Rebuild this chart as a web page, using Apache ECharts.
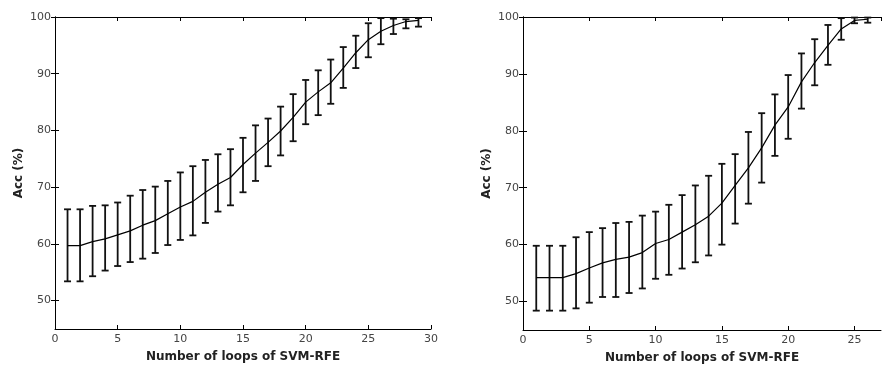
<!DOCTYPE html>
<html>
<head>
<meta charset="utf-8">
<script src="https://cdn.jsdelivr.net/npm/echarts@6/dist/echarts.min.js"></script>
<style>
  html, body { margin: 0; padding: 0; background: #fff; }
  #main { width: 892px; height: 376px; }
</style>
</head>
<body>
<div id="main"></div>
<script>
// left panel: 29 loops
var loopsL = [1,2,3,4,5,6,7,8,9,10,11,12,13,14,15,16,17,18,19,20,21,22,23,24,25,26,27,28,29];
var meanL = [59.7,59.7,60.4,60.9,61.6,62.3,63.3,64.1,65.3,66.5,67.5,69.1,70.5,71.7,74.0,76.0,77.9,79.9,82.3,85.0,86.8,88.4,91.0,93.7,96.0,97.5,98.5,99.2,99.4];
var highL = [66.1,66.1,66.7,66.8,67.3,68.5,69.5,70.1,71.1,72.6,73.7,74.8,75.8,76.7,78.7,80.9,82.1,84.2,86.4,88.9,90.6,92.5,94.7,96.7,98.9,99.8,99.7,99.6,99.8];
var lowL  = [53.4,53.4,54.3,55.3,56.1,56.8,57.4,58.4,59.8,60.7,61.5,63.7,65.7,66.8,69.1,71.1,73.7,75.6,78.1,81.1,82.7,84.7,87.5,91.0,92.9,95.2,97.0,98.0,98.3];

// right panel: 26 loops
var loopsR = [1,2,3,4,5,6,7,8,9,10,11,12,13,14,15,16,17,18,19,20,21,22,23,24,25,26];
var meanR = [54.2,54.2,54.2,54.9,55.9,56.8,57.4,57.8,58.6,60.2,60.9,62.2,63.5,65.0,67.3,70.4,73.5,77.0,81.0,84.2,88.6,92.0,95.0,97.9,99.4,99.6];
var highR = [59.8,59.8,59.8,61.3,62.2,62.9,63.8,64.0,65.1,65.8,67.0,68.7,70.4,72.1,74.2,75.9,79.8,83.1,86.4,89.8,93.6,96.1,98.6,99.8,99.9,99.9];
var lowR  = [48.4,48.4,48.4,48.8,49.8,50.8,50.8,51.5,52.3,54.0,54.7,55.8,56.9,58.1,60.0,63.7,67.2,70.9,75.6,78.6,83.9,88.0,91.6,96.0,98.9,99.0];

var yTicks = [50,60,70,80,90,100];

var chart = echarts.init(document.getElementById('main'));

var tickFont = { color: '#444', fontSize: 11, fontFamily: 'DejaVu Sans' };
var titleFont = { color: '#222', fontSize: 12, fontWeight: 'bold', fontFamily: 'DejaVu Sans' };
var spine = { show: true, lineStyle: { color: '#000', width: 1 } };

function pairs(xs, a, b) {
  var out = [];
  for (var i = 0; i < xs.length; i++) out.push(b ? [xs[i], a[i], b[i]] : [xs[i], a[i]]);
  return out;
}

function errRender(params, api) {
  var x = api.value(0);
  var top = api.coord([x, api.value(2)]);
  var bot = api.coord([x, api.value(1)]);
  var w = 3.5;
  var st = { stroke: '#111', lineWidth: 1.8 };
  return {
    type: 'group',
    children: [
      { type: 'line', shape: { x1: top[0], y1: top[1], x2: bot[0], y2: bot[1] }, style: st },
      { type: 'line', shape: { x1: top[0] - w, y1: top[1], x2: top[0] + w, y2: top[1] }, style: st },
      { type: 'line', shape: { x1: bot[0] - w, y1: bot[1], x2: bot[0] + w, y2: bot[1] }, style: st }
    ]
  };
}

function xAxes(gi, max, showMax) {
  return [
    {
      gridIndex: gi, type: 'value', position: 'bottom', min: 0, max: max, interval: 5,
      name: 'Number of loops of SVM-RFE', nameLocation: 'middle', nameGap: 22, nameTextStyle: titleFont,
      axisLine: spine, axisTick: { inside: true, length: 4, lineStyle: { color: '#000' } },
      axisLabel: Object.assign({ margin: 5, showMaxLabel: showMax }, tickFont),
      splitLine: { show: false }
    },
    {
      gridIndex: gi, type: 'value', position: 'top', min: 0, max: max, interval: 5,
      axisLine: spine, axisTick: { inside: true, length: 4, lineStyle: { color: '#000' } },
      axisLabel: { show: false }, splitLine: { show: false }
    }
  ];
}

function yAxes(gi) {
  return [
    {
      gridIndex: gi, type: 'value', position: 'left', min: 45, max: 100,
      name: 'Acc (%)', nameLocation: 'middle', nameGap: 30, nameTextStyle: titleFont,
      axisLine: spine,
      axisTick: { inside: true, length: 4, customValues: yTicks, lineStyle: { color: '#000' } },
      axisLabel: Object.assign({ margin: 4, customValues: yTicks }, tickFont),
      splitLine: { show: false }
    },
    {
      gridIndex: gi, type: 'value', position: 'right', min: 45, max: 100,
      axisLine: spine,
      axisTick: { inside: true, length: 4, customValues: yTicks, lineStyle: { color: '#000' } },
      axisLabel: { show: false }, splitLine: { show: false }
    }
  ];
}

var option = {
  backgroundColor: '#fff',
  animation: false,
  grid: [
    { left: 55, top: 17, width: 376, height: 312 },
    { left: 523, top: 17, width: 358, height: 313 }
  ],
  xAxis: xAxes(0, 30, true).concat(xAxes(1, 27, false)),
  yAxis: yAxes(0).concat(yAxes(1)),
  series: [
    {
      type: 'custom', xAxisIndex: 0, yAxisIndex: 0, renderItem: errRender,
      data: pairs(loopsL, lowL, highL), z: 3
    },
    {
      type: 'line', xAxisIndex: 0, yAxisIndex: 0, data: pairs(loopsL, meanL),
      showSymbol: false, lineStyle: { color: '#000', width: 1.2 }, z: 4
    },
    {
      type: 'custom', xAxisIndex: 2, yAxisIndex: 2, renderItem: errRender,
      data: pairs(loopsR, lowR, highR), z: 3
    },
    {
      type: 'line', xAxisIndex: 2, yAxisIndex: 2, data: pairs(loopsR, meanR),
      showSymbol: false, lineStyle: { color: '#000', width: 1.2 }, z: 4
    }
  ]
};

chart.setOption(option);
</script>
</body>
</html>
